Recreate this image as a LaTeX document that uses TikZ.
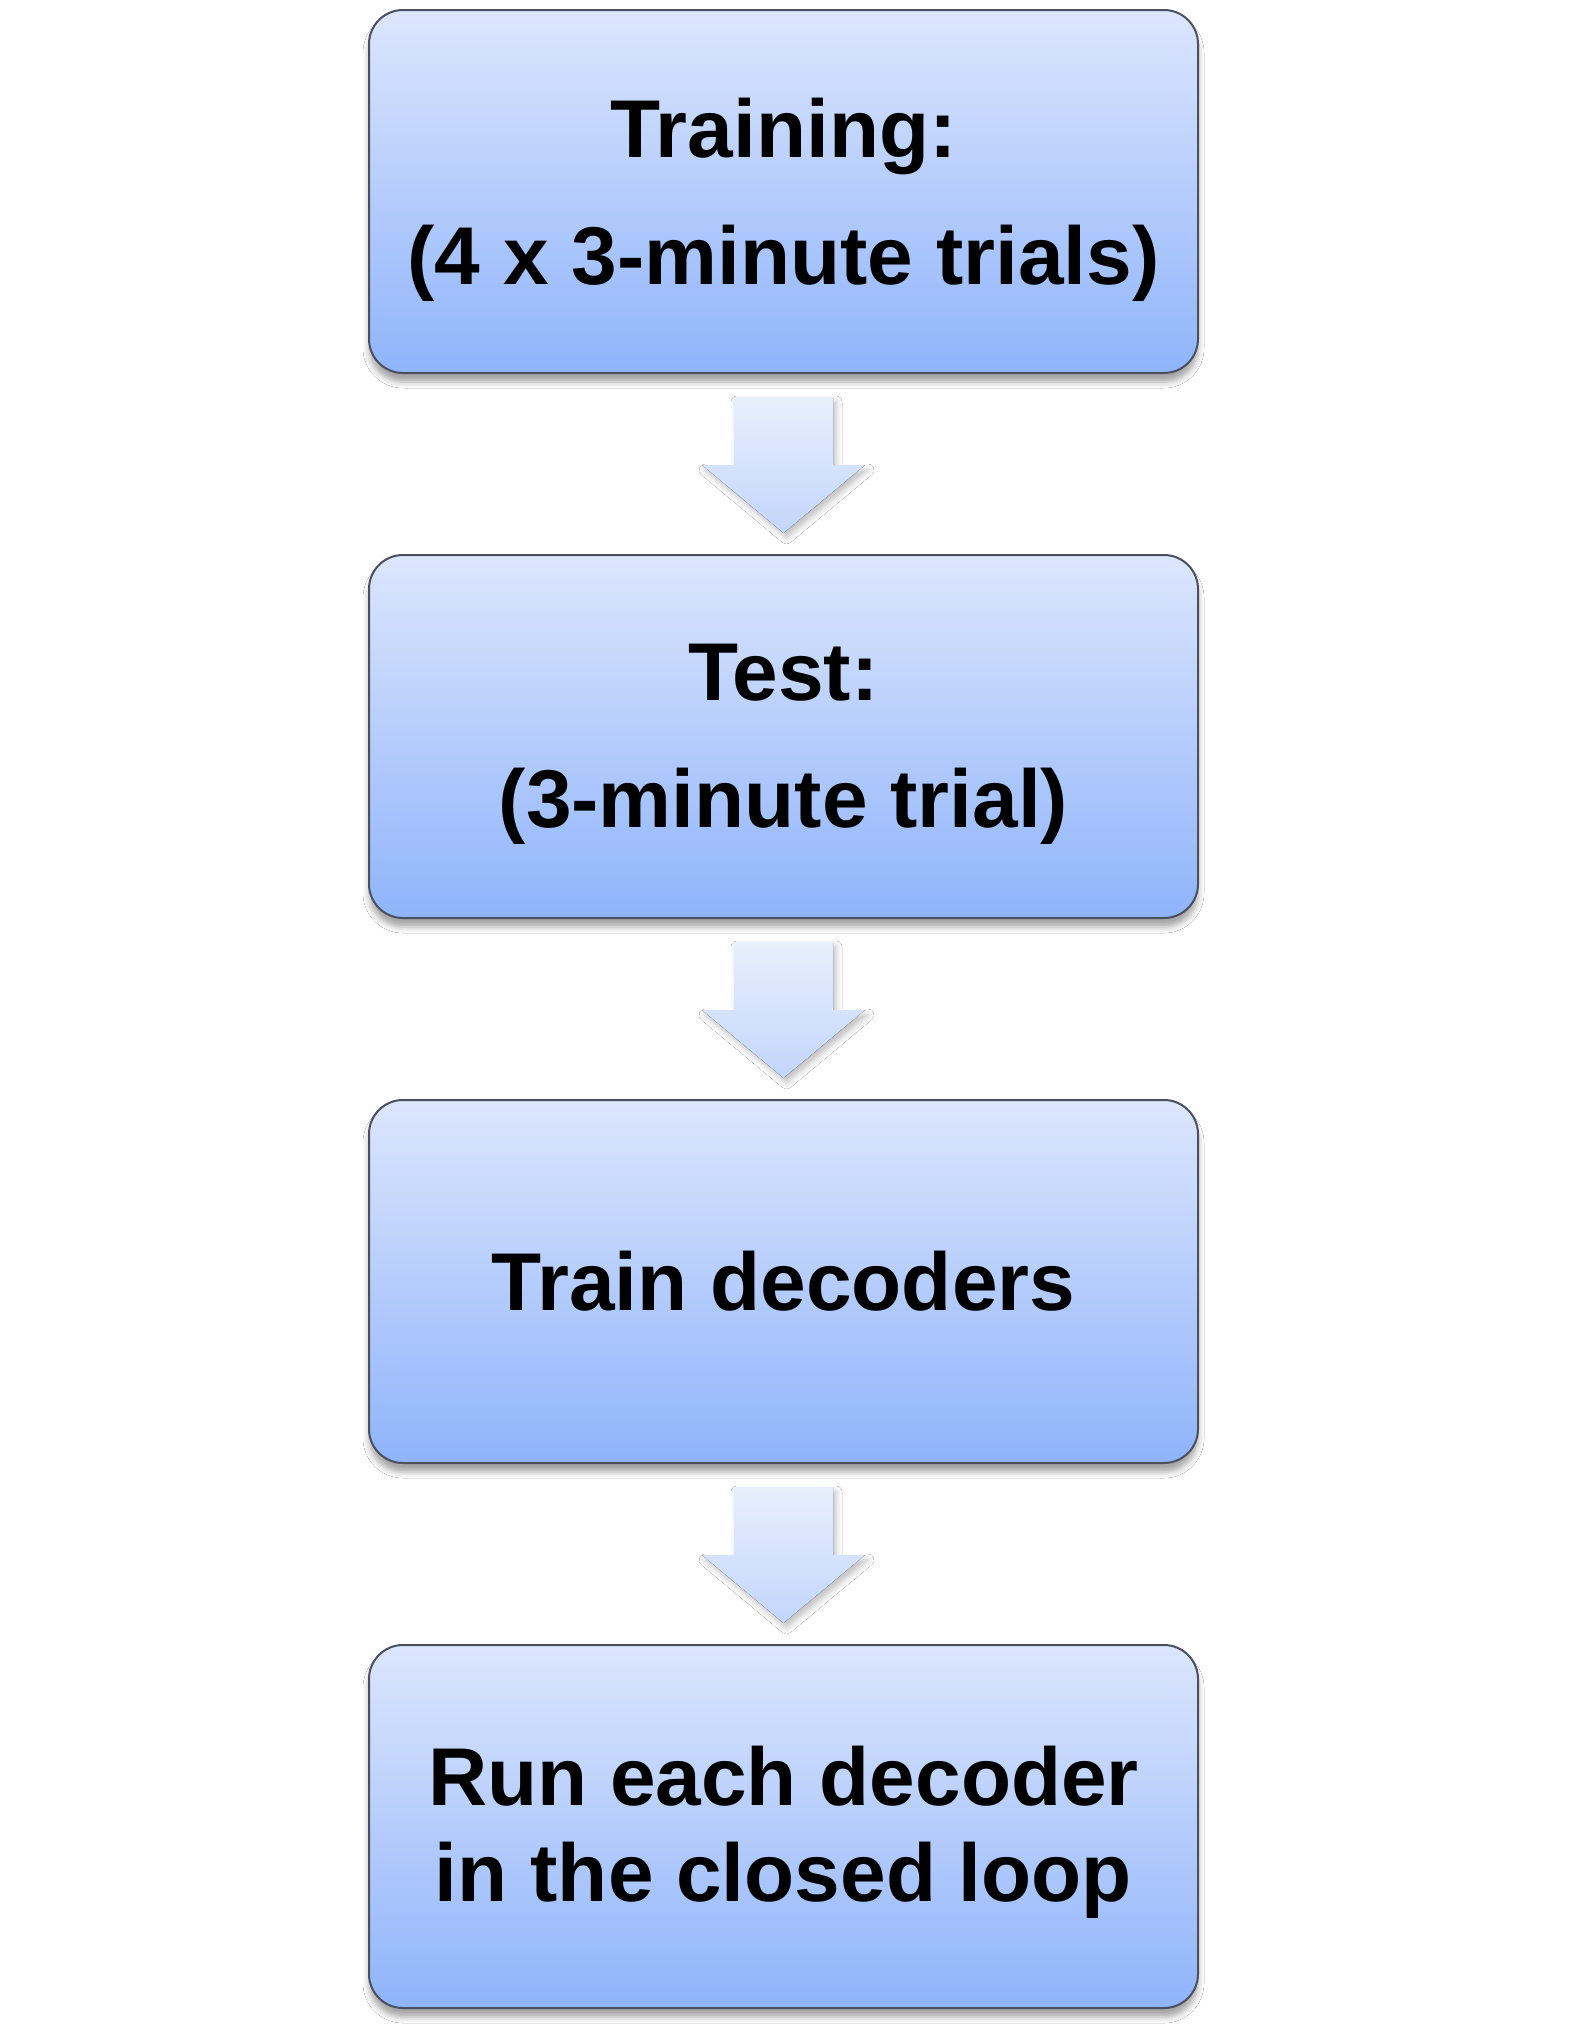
\documentclass[tikz,border=0pt]{standalone}
\usepackage{fontspec}
\setmainfont{Liberation Sans}
\usetikzlibrary{calc,shadows.blur}
\definecolor{boxtop}{HTML}{DCE6FD}
\definecolor{boxbot}{HTML}{8FB4FB}
\definecolor{boxline}{HTML}{4A5060}
\definecolor{arrtop}{HTML}{E8F0FD}
\definecolor{arrbot}{HTML}{C3D5FC}
\tikzset{
  stepbox/.style={rectangle, rounded corners=17pt, draw=boxline, line width=1pt,
    top color=boxtop, bottom color=boxbot,
    minimum width=414.5pt, minimum height=181.5pt, inner sep=0pt,
    blur shadow={shadow xshift=0pt, shadow yshift=-4.5pt, shadow blur radius=3pt, shadow opacity=35}},
  steptext/.style={align=center, inner sep=0pt, font=\fontsize{41}{63.5}\selectfont\bfseries},
  blockarrow/.style={top color=arrtop, bottom color=arrbot, draw=none,
    blur shadow={shadow xshift=1.5pt, shadow yshift=-2.5pt, shadow blur radius=3pt, shadow opacity=25}}
}
\begin{document}
\begin{tikzpicture}[x=0.5pt,y=-0.5pt]
\useasboundingbox (0,0) rectangle (1572,2035);
\fill[white] (0,0) rectangle (1572,2035);
\node[stepbox] (b1) at (783.5,191.5) {};
\node[stepbox] (b2) at (783.5,736.5) {};
\node[stepbox] (b3) at (783.5,1281.5) {};
\node[stepbox] (b4) at (783.5,1826.5) {};
\node[steptext] (t1) at ($(b1.center)+(0,8)$) {Training:\\(4 x 3-minute trials)};
\node[steptext] (t2) at ($(b2.center)+(0,8)$) {Test:\\(3-minute trial)};
\node[steptext] (t3) at (b3.center) {Train decoders};
\node[steptext, font=\fontsize{41}{48}\selectfont\bfseries] (t4) at ($(b4.center)+(0,6)$) {Run each decoder\\in the closed loop};
\foreach \a/\b in {b1/b2,b2/b3,b3/b4}{
  \coordinate (s) at (\a.south);
  \fill[blockarrow] ($(s)+(-49.5,23)$) -- ($(s)+(49.5,23)$) -- ($(s)+(49.5,91)$)
    -- ($(s)+(81.5,91)$) -- ($(s)+(0,159)$) -- ($(s)+(-81.5,91)$) -- ($(s)+(-49.5,91)$) -- cycle;
}
\end{tikzpicture}
\end{document}
